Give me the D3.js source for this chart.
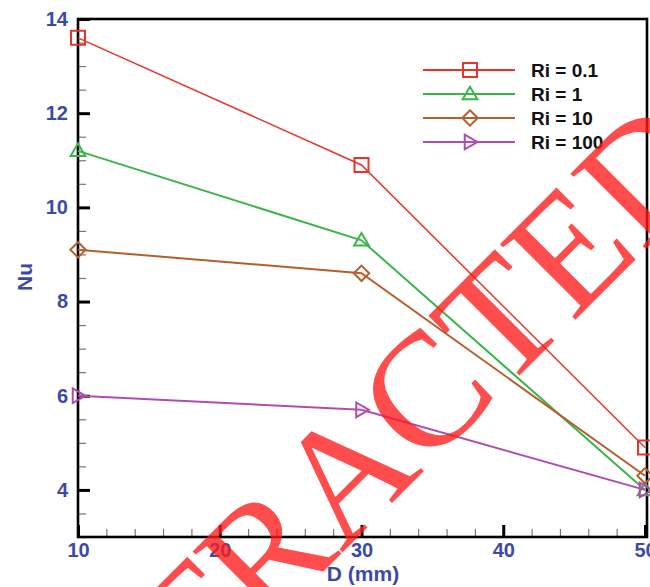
<!DOCTYPE html>
<html>
<head>
<meta charset="utf-8">
<script src="https://cdn.jsdelivr.net/npm/d3@7"></script>
<style>
  html, body { margin: 0; padding: 0; background: #fff; }
  svg { display: block; }
  text { font-family: "Liberation Sans", Arial, sans-serif; }
</style>
</head>
<body>
<svg id="chart" width="650" height="587"></svg>
<script>
// Nusselt number versus spacing D for several Richardson numbers
const diameters = [10, 30, 50];
const seriesNames = ["Ri = 0.1", "Ri = 1", "Ri = 10", "Ri = 100"];
const nuRi01  = [13.6, 10.9, 4.9];
const nuRi1   = [11.2, 9.3, 4.0];
const nuRi10  = [9.1, 8.6, 4.3];
const nuRi100 = [6.0, 5.7, 4.0];
const xTicks = [10, 20, 30, 40, 50];
const yTicks = [4, 6, 8, 10, 12, 14];
const xLabel = "D (mm)";
const yLabel = "Nu";
const stampText = "RETRACTED";

const colors  = ["#e5342c", "#3bb54a", "#b55f2c", "#b04cb0"];
const symbols = ["square", "triangleUp", "diamond", "triangleRight"];
const allSeries = [nuRi01, nuRi1, nuRi10, nuRi100];

const svg = d3.select("#chart");
const x = d3.scaleLinear().domain([10, 50]).range([78, 645]);
const y = d3.scaleLinear().domain([3, 14]).range([537, 19]);
const labelBlue = "#3d4aa5";

// minor ticks
const xMinor = d3.range(10, 50.01, 2).filter(v => !xTicks.includes(v));
const yMinor = d3.range(3, 14.01, 0.5).filter(v => !yTicks.includes(v));

const gxMinor = svg.append("g").attr("transform", `translate(0,${y.range()[0]})`)
  .call(d3.axisBottom(x).tickValues(xMinor).tickSize(-8).tickFormat(""));
const gyMinor = svg.append("g").attr("transform", `translate(${x.range()[0]},0)`)
  .call(d3.axisLeft(y).tickValues(yMinor).tickSize(-8).tickFormat(""));
[gxMinor, gyMinor].forEach(g => {
  g.select(".domain").remove();
  g.selectAll("line").attr("stroke", "#777").attr("stroke-width", 1.2);
});

// major ticks
const gx = svg.append("g").attr("transform", `translate(0,${y.range()[0]})`)
  .call(d3.axisBottom(x).tickValues(xTicks).tickSize(-12).tickPadding(6).tickFormat(d3.format("d")));
const gy = svg.append("g").attr("transform", `translate(${x.range()[0]},0)`)
  .call(d3.axisLeft(y).tickValues(yTicks).tickSize(-12).tickPadding(10).tickFormat(d3.format("d")));
[gx, gy].forEach(g => {
  g.select(".domain").remove();
  g.selectAll("line").attr("stroke", "#000").attr("stroke-width", 3);
  g.selectAll("text")
    .attr("fill", labelBlue)
    .style("font-size", "20px")
    .style("font-weight", "bold")
    .style("font-family", "'Liberation Sans', Arial, sans-serif");
});

// frame
svg.append("rect")
  .attr("x", x.range()[0]).attr("y", y.range()[1])
  .attr("width", x.range()[1] + 2 - x.range()[0])
  .attr("height", y.range()[0] - y.range()[1])
  .attr("fill", "none").attr("stroke", "#000").attr("stroke-width", 2.6);

// axis titles
svg.append("text")
  .attr("x", 363).attr("y", 581)
  .attr("text-anchor", "middle")
  .attr("fill", labelBlue)
  .style("font-size", "21px").style("font-weight", "bold")
  .text(xLabel);
svg.append("text")
  .attr("transform", "translate(32,277) rotate(-90)")
  .attr("text-anchor", "middle")
  .attr("fill", labelBlue)
  .style("font-size", "21px").style("font-weight", "bold")
  .text(yLabel);

// symbol paths centred on (0,0)
function markerPath(kind, s) {
  const h = s / 2;
  switch (kind) {
    case "square": return `M${-h},${-h}H${h}V${h}H${-h}Z`;
    case "triangleUp": return `M0,${-h * 1.05}L${h * 1.05},${h * 0.75}L${-h * 1.05},${h * 0.75}Z`;
    case "diamond": return `M0,${-h * 1.1}L${h * 1.1},0L0,${h * 1.1}L${-h * 1.1},0Z`;
    case "triangleRight": return `M${-h * 0.75},${-h * 1.05}L${h * 1.05},0L${-h * 0.75},${h * 1.05}Z`;
  }
}

const line = d3.line().x((d, i) => x(diameters[i])).y(d => y(d));

allSeries.forEach((vals, si) => {
  const g = svg.append("g");
  g.append("path")
    .attr("d", line(vals))
    .attr("fill", "none")
    .attr("stroke", colors[si])
    .attr("stroke-width", si === 0 ? 1.5 : 2);
  g.selectAll("path.mk").data(vals).join("path")
    .attr("class", "mk")
    .attr("transform", (d, i) => `translate(${x(diameters[i])},${y(d)})`)
    .attr("d", markerPath(symbols[si], 14))
    .attr("fill", "none")
    .attr("stroke", colors[si])
    .attr("stroke-width", 2);
});

// legend
const legend = svg.append("g").attr("transform", "translate(423,70)");
seriesNames.forEach((name, i) => {
  const row = legend.append("g").attr("transform", `translate(0,${i * 24})`);
  row.append("line").attr("x1", 0).attr("x2", 92).attr("y1", 0).attr("y2", 0)
    .attr("stroke", colors[i]).attr("stroke-width", 2);
  row.append("path").attr("transform", "translate(47,0)")
    .attr("d", markerPath(symbols[i], 14))
    .attr("fill", "none").attr("stroke", colors[i]).attr("stroke-width", 2);
  row.append("text").attr("x", 108).attr("y", 7)
    .attr("fill", "#111")
    .style("font-size", "19px").style("font-weight", "bold")
    .text(name);
});

// diagonal stamp across the figure
svg.append("text")
  .attr("transform", "translate(47,848) rotate(-45)")
  .attr("fill", "#ff1a1a")
  .attr("fill-opacity", 0.78)
  .style("font-family", "'Liberation Serif', 'Times New Roman', serif")
  .style("font-size", "163px")
  .text(stampText);
</script>
</body>
</html>
